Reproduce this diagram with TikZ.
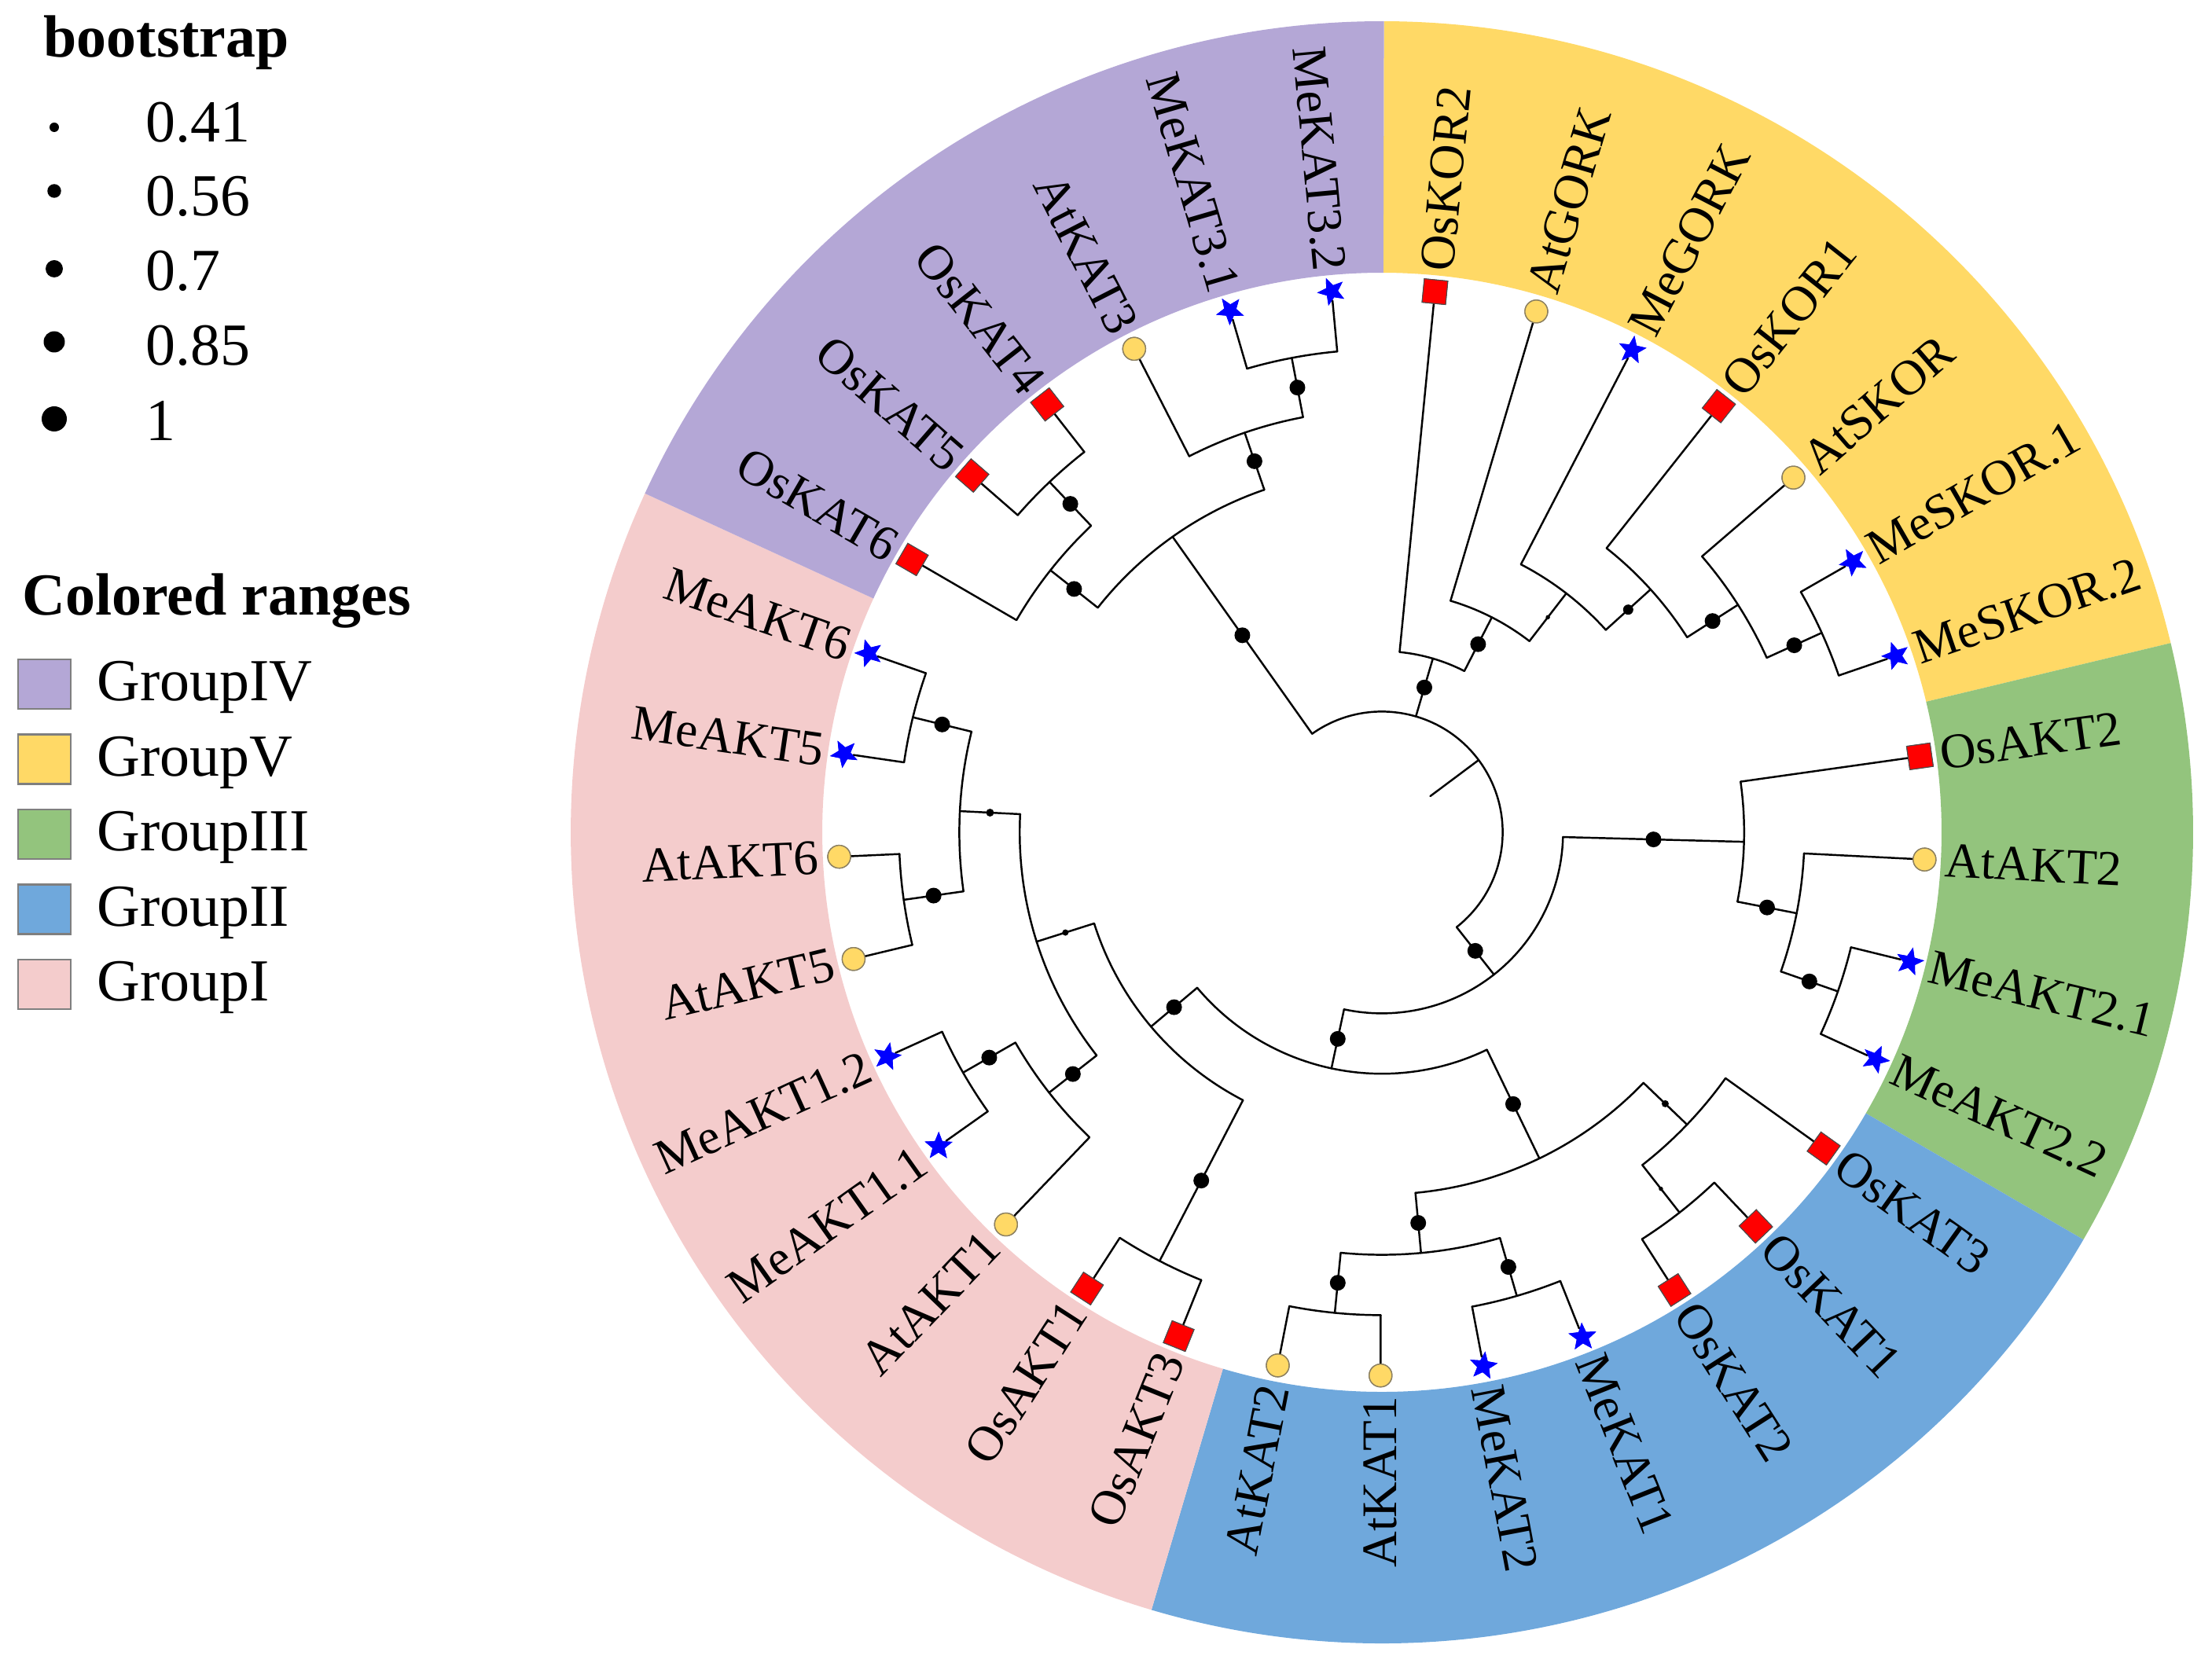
\documentclass[tikz,border=0pt]{standalone}
\usepackage{fontspec}
\setmainfont{Liberation Serif}
\usetikzlibrary{shapes.geometric}
\definecolor{gIV}{HTML}{B4A7D6}
\definecolor{gV}{HTML}{FFD966}
\definecolor{gIII}{HTML}{93C47D}
\definecolor{gII}{HTML}{6FA8DC}
\definecolor{gI}{HTML}{F4CCCC}
\definecolor{atyellow}{HTML}{FFD966}
\definecolor{atedge}{HTML}{8C8060}
\definecolor{mkred}{HTML}{FF0000}
\definecolor{mkblue}{HTML}{0000FF}
\definecolor{legedge}{HTML}{7F7F7F}
\newcommand\stp{0.768}
\newcommand\ringsector[3]{\fill[#3] ({#1}:7.12) arc[start angle={#1}, end angle={#2}, radius=7.12] -- ({#2}:10.32) arc[start angle={#2}, end angle={#1}, radius=10.32] -- cycle;}
\newcommand\nodearc[3]{\draw[branch] ({#1}:{#3*\stp}) arc[start angle={#1}, end angle={#2}, radius={#3*\stp}];}
\newcommand\treestem[5]{%
  \coordinate (#1) at ({#2}:{#4*\stp});
  \draw[branch] ({#2}:{#3*\stp}) -- (#1);
  \fill ({#2}:{(#3+#4)/2*\stp}) circle[radius={#5/2}];}
\begin{document}
\begin{tikzpicture}[
  branch/.style={line width=0.7pt, black, line cap=round},
  lab/.style={font=\fontsize{18}{21}\selectfont, inner sep=0pt},
  legtitle/.style={font=\bfseries\fontsize{21.6}{26}\selectfont, inner sep=0pt},
  legtext/.style={font=\fontsize{21.6}{26}\selectfont, inner sep=0pt},
  mOs/.style={rectangle, draw=black!70, line width=0.3pt, fill=mkred, minimum size=0.30cm, inner sep=0pt},
  mAt/.style={circle, draw=atedge, line width=0.4pt, fill=atyellow, minimum size=0.29cm, inner sep=0pt},
  mMe/.style={star, star points=5, star point ratio=2.3, fill=mkblue, minimum size=0.37cm, inner sep=0pt}
]
\useasboundingbox (0,0) rectangle (28.14,21.15);
% ---------------- legend ----------------
\node[legtitle, anchor=base west] (bst) at (0.55,20.42) {bootstrap};
\foreach \ki/\bval/\dd/\dy/\ty in {0/0.41/0.12/1.62/1.56, 1/0.56/0.175/2.43/2.50, 2/0.7/0.22/3.42/3.45, 3/0.85/0.27/4.35/4.40, 4/1/0.32/5.33/5.35} {
  \fill (0.69,21.15-\dy) circle[radius=\dd/2];
  \node[legtext, anchor=west] (bv\ki) at (1.85,21.15-\ty) {\bval};
}
\node[legtitle, anchor=base west] (crt) at (0.28,13.32) {Colored ranges};
\foreach \ki/\gname/\gcol in {0/GroupIV/gIV, 1/GroupV/gV, 2/GroupIII/gIII, 3/GroupII/gII, 4/GroupI/gI} {
  \pgfmathsetmacro\yt{21.15-8.39-0.955*\ki}
  \filldraw[fill=\gcol, draw=legedge, line width=0.8pt] (0.23,\yt) rectangle (0.90,\yt-0.63);
  \node[legtext, anchor=base west] (gt\ki) at (1.23,\yt-0.53) {\gname};
}
% ---------------- tree ----------------
\begin{scope}[shift={(17.58,10.56)}]
\ringsector{89.855}{13.495}{gV}
\ringsector{13.495}{-30.145}{gIII}
\ringsector{-30.145}{-106.505}{gII}
\ringsector{-106.505}{-204.695}{gI}
\ringsector{-204.695}{-270.145}{gIV}
% root
\coordinate (A) at (36.76:{2*\stp});
\draw[branch] (A) -- (36.76:{1*\stp});
\nodearc{125.31}{-51.79}{2}
% stems (name, angle, parent level, level, dot diameter)
\treestem{V0}{73.66}{2}{3}{0.2}
\treestem{V1}{62.92}{3}{4}{0.2}
\treestem{V2}{52.35}{4}{5}{0.055}
\treestem{V3}{42.12}{5}{6}{0.13}
\treestem{V4}{32.58}{6}{7}{0.2}
\treestem{V5}{24.40}{7}{8}{0.2}
\treestem{IV0}{125.31}{2}{6}{0.2}
\treestem{IVa}{141.67}{6}{7}{0.2}
\treestem{IVc}{133.49}{7}{8}{0.2}
\treestem{IVb}{108.95}{6}{7}{0.2}
\treestem{IVd}{100.76}{7}{8}{0.2}
\treestem{B}{-51.79}{2}{3}{0.2}
\treestem{III0}{-1.51}{3}{6}{0.2}
\treestem{III1}{-11.05}{6}{7}{0.2}
\treestem{III2}{-19.24}{7}{8}{0.2}
\treestem{C}{-102.07}{3}{4}{0.2}
\treestem{II0}{-64.23}{4}{6}{0.2}
\treestem{IIa}{-43.78}{6}{7}{0.09}
\treestem{IIc}{-51.96}{7}{8}{0.055}
\treestem{IIb}{-84.69}{6}{7}{0.2}
\treestem{IId}{-73.78}{7}{8}{0.2}
\treestem{IIe}{-95.60}{7}{8}{0.2}
\treestem{I0}{-139.91}{4}{5}{0.2}
\treestem{I1}{-162.42}{5}{6}{0.08}
\treestem{I4}{-117.41}{5}{8}{0.2}
\treestem{I3}{-141.96}{6}{7}{0.2}
\treestem{I7}{-150.15}{7}{8}{0.2}
\treestem{I2}{-182.87}{6}{7}{0.10}
\treestem{I5}{-171.96}{7}{8}{0.2}
\treestem{I6}{-193.78}{7}{8}{0.2}
% arcs of internal nodes
\nodearc{84.40}{62.92}{3}
\nodearc{73.49}{52.35}{4}
\nodearc{62.58}{42.12}{5}
\nodearc{51.67}{32.58}{6}
\nodearc{40.76}{24.40}{7}
\nodearc{29.85}{18.95}{8}
\nodearc{141.67}{108.95}{6}
\nodearc{149.85}{133.49}{7}
\nodearc{138.95}{128.04}{8}
\nodearc{117.13}{100.76}{7}
\nodearc{106.22}{95.31}{8}
\nodearc{-1.51}{-102.07}{3}
\nodearc{8.04}{-11.05}{6}
\nodearc{-2.87}{-19.24}{7}
\nodearc{-13.78}{-24.69}{8}
\nodearc{-64.23}{-139.91}{4}
\nodearc{-43.78}{-84.69}{6}
\nodearc{-35.60}{-51.96}{7}
\nodearc{-46.51}{-57.42}{8}
\nodearc{-73.78}{-95.60}{7}
\nodearc{-68.33}{-79.24}{8}
\nodearc{-90.15}{-101.05}{8}
\nodearc{-117.41}{-162.42}{5}
\nodearc{-141.96}{-182.87}{6}
\nodearc{-111.96}{-122.87}{8}
\nodearc{-133.78}{-150.15}{7}
\nodearc{-144.69}{-155.60}{8}
\nodearc{-171.96}{-193.78}{7}
\nodearc{-166.51}{-177.42}{8}
\nodearc{-188.33}{-199.24}{8}
% leaves
\foreach \i/\nm/\tp/\pl in {0/OsKOR2/Os/3, 1/AtGORK/At/4, 2/MeGORK/Me/5, 3/OsKOR1/Os/6, 4/AtSKOR/At/7, 5/MeSKOR.1/Me/8, 6/MeSKOR.2/Me/8, 7/OsAKT2/Os/6, 8/AtAKT2/At/7, 9/MeAKT2.1/Me/8, 10/MeAKT2.2/Me/8, 11/OsKAT3/Os/7, 12/OsKAT1/Os/8, 13/OsKAT2/Os/8, 14/MeKAT1/Me/8, 15/MeKAT2/Me/8, 16/AtKAT1/At/8, 17/AtKAT2/At/8, 18/OsAKT3/Os/8, 19/OsAKT1/Os/8, 20/AtAKT1/At/7, 21/MeAKT1.1/Me/8, 22/MeAKT1.2/Me/8, 23/AtAKT5/At/8, 24/AtAKT6/At/8, 25/MeAKT5/Me/8, 26/MeAKT6/Me/8, 27/OsKAT6/Os/7, 28/OsKAT5/Os/8, 29/OsKAT4/Os/8, 30/AtKAT3/At/7, 31/MeKAT3.1/Me/8, 32/MeKAT3.2/Me/8} {
  \pgfmathsetmacro\ang{84.4-10.90909*\i}
  \coordinate (p\i) at ({\ang}:{\pl*\stp});
  \node[m\tp, rotate=\ang] (m\i) at ({\ang}:{9*\stp}) {};
  \draw[branch] (p\i) -- (m\i);
  \node[m\tp, rotate=\ang] at (m\i) {};
  \ifnum\i<16
    \node[lab, rotate=\ang, anchor=west] (l\i) at ({\ang}:7.17) {\nm};
  \else
    \node[lab, rotate=\ang+180, anchor=east] (l\i) at ({\ang}:7.17) {\nm};
  \fi
}
\end{scope}
\end{tikzpicture}
\end{document}
